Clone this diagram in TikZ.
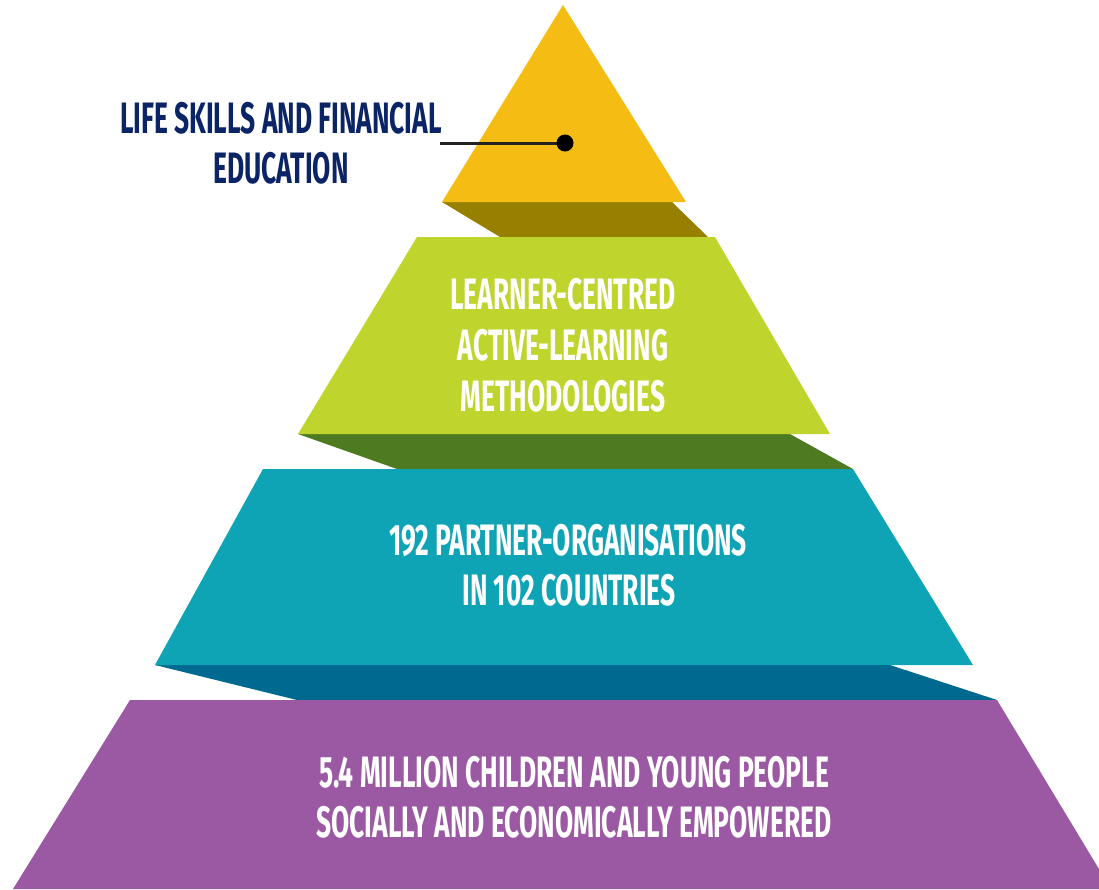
\documentclass[tikz,border=0pt]{standalone}
\usepackage{fontspec}
\setmainfont{Fira Sans}[FakeStretch=0.60]
\definecolor{cyel}{HTML}{F5BC14}
\definecolor{cyelsh}{HTML}{978000}
\definecolor{cgrn}{HTML}{BFD52D}
\definecolor{cgrnsh}{HTML}{4E7A21}
\definecolor{cteal}{HTML}{0FA4B5}
\definecolor{ctealsh}{HTML}{006990}
\definecolor{cpur}{HTML}{9B58A3}
\definecolor{cnavy}{HTML}{0A2466}
\definecolor{cline}{HTML}{222222}
\tikzset{
  tiertext/.style={text=white, font=\bfseries\fontsize{44}{50}\selectfont, align=center, inner sep=0pt},
  labeltext/.style={text=cnavy, font=\bfseries\fontsize{44}{50}\selectfont, align=center, inner sep=0pt},
}
\begin{document}
\begin{tikzpicture}[x=1pt,y=-1pt]
\useasboundingbox (0,0) rectangle (1099,889);
\clip (0,0) rectangle (1099,889);
% shadows
\fill[cyelsh] (442,202) -- (672,202) -- (708,237) -- (500,237) -- cycle;
\fill[cgrnsh] (298,434) -- (790,434) -- (853,469) -- (397,469) -- cycle;
\fill[ctealsh] (155,665) -- (890,665) -- (997,700) -- (297,700) -- cycle;
% tiers
\fill[cyel] (563,5) -- (686,202) -- (442,202) -- cycle;
\fill[cgrn] (417,237) -- (715,237) -- (830,434) -- (298,434) -- cycle;
\fill[cteal] (263,469) -- (853,469) -- (973,665) -- (155,665) -- cycle;
\fill[cpur] (130,700) -- (997,700) -- (1111,889) -- (13,889) -- cycle;
% label and connector
\node[labeltext] (lab1) at (281,118) {LIFE SKILLS AND FINANCIAL};
\node[labeltext] (lab2) at (281,168) {EDUCATION};
\coordinate (dot) at (565,143);
\coordinate (lineend) at (440,143);
\draw[cline, line width=3pt] (lineend) -- (dot);
\fill[black] (dot) circle (8.5);
% tier texts
\node[tiertext] (g1) at (563,294) {LEARNER-CENTRED};
\node[tiertext] (g2) at (563,345) {ACTIVE-LEARNING};
\node[tiertext] (g3) at (563,396) {METHODOLOGIES};
\node[tiertext] (t1) at (568,540) {192 PARTNER-ORGANISATIONS};
\node[tiertext] (t2) at (569,590) {IN 102 COUNTRIES};
\node[tiertext] (p1) at (574,772) {5.4 MILLION CHILDREN AND YOUNG PEOPLE};
\node[tiertext] (p2) at (574,822) {SOCIALLY AND ECONOMICALLY EMPOWERED};
\end{tikzpicture}
\end{document}
